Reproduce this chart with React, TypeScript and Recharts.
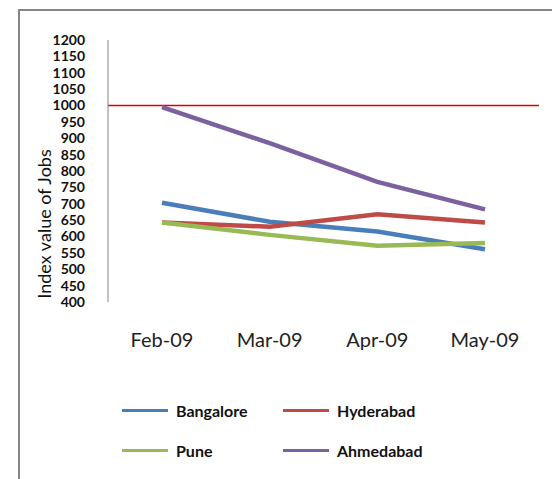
import React from 'react';
import {
  LineChart, Line, XAxis, YAxis, ReferenceLine, Label
} from 'recharts';

// months on the x axis
const months = ['Feb-09', 'Mar-09', 'Apr-09', 'May-09'];

// index values
const bangalore = [703, 645, 615, 561];
const hyderabad = [643, 630, 668, 643];
const pune = [643, 605, 572, 580];
const ahmedabad = [995, 885, 767, 683];

const yTicks = [400, 450, 500, 550, 600, 650, 700, 750, 800, 850, 900, 950, 1000, 1050, 1100, 1150, 1200];

const series = [
  { key: 'Bangalore', color: '#4a7ebb' },
  { key: 'Hyderabad', color: '#be4b48' },
  { key: 'Pune', color: '#98b954' },
  { key: 'Ahmedabad', color: '#7d60a0' },
];

const data = months.map((m, i) => ({
  month: m,
  Bangalore: bangalore[i],
  Hyderabad: hyderabad[i],
  Pune: pune[i],
  Ahmedabad: ahmedabad[i],
}));

const FONT = 'Lato, "Open Sans", sans-serif';

// two-column legend like the spreadsheet one
const LegendBox = () => (
  <div style={{ display: 'grid', gridTemplateColumns: '161px 161px', rowGap: 22, fontFamily: FONT }}>
    {series.map(s => (
      <div key={s.key} style={{ display: 'flex', alignItems: 'center', height: 18 }}>
        <span style={{ display: 'inline-block', width: 46, height: 3, background: s.color, marginRight: 8 }} />
        <span style={{ fontSize: 16, fontWeight: 700, color: '#111' }}>{s.key}</span>
      </div>
    ))}
  </div>
);

const YTitle = () => (
  <text
    x={44}
    y={224}
    transform="rotate(-90 44 224)"
    textAnchor="middle"
    dominantBaseline="central"
    style={{ fontSize: 18, fontFamily: FONT, fill: '#111' }}
  >
    Index value of Jobs
  </text>
);

export default function App() {
  return (
    <div style={{ position: 'absolute', left: 0, top: 0, width: 552, height: 479, overflow: 'hidden', background: '#fff' }}>
      <div
        style={{
          position: 'absolute', left: 18, top: 9, width: 560, height: 500,
          borderTop: '2px solid #868686', borderLeft: '2px solid #868686',
        }}
      />
      <div style={{ position: 'absolute', left: 0, top: 0 }}>
        <LineChart width={552} height={479} data={data} margin={{ top: 40, right: 13, left: 0, bottom: 147 }}>
          <XAxis
            dataKey="month"
            axisLine={false}
            tickLine={false}
            tickSize={0}
            tickMargin={31}
            padding={{ left: 54, right: 54 }}
            interval={0}
            tick={{ fontSize: 20, fontFamily: FONT, fill: '#222' }}
          />
          <YAxis
            width={108}
            domain={[400, 1200]}
            ticks={yTicks}
            interval={0}
            tickLine={false}
            tickSize={0}
            tickMargin={23}
            axisLine={{ stroke: '#868686', strokeWidth: 1 }}
            tick={{ fontSize: 14, fontWeight: 700, fontFamily: FONT, fill: '#111' }}
          >
            <Label content={<YTitle />} />
          </YAxis>
          <ReferenceLine y={1000} stroke="#e00000" strokeWidth={1.3} />
          {series.map(s => (
            <Line
              key={s.key}
              type="linear"
              dataKey={s.key}
              stroke={s.color}
              strokeWidth={4.5}
              dot={false}
              isAnimationActive={false}
            />
          ))}
        </LineChart>
      </div>
      <div style={{ position: 'absolute', left: 122, top: 401 }}>
        <LegendBox />
      </div>
    </div>
  );
}
